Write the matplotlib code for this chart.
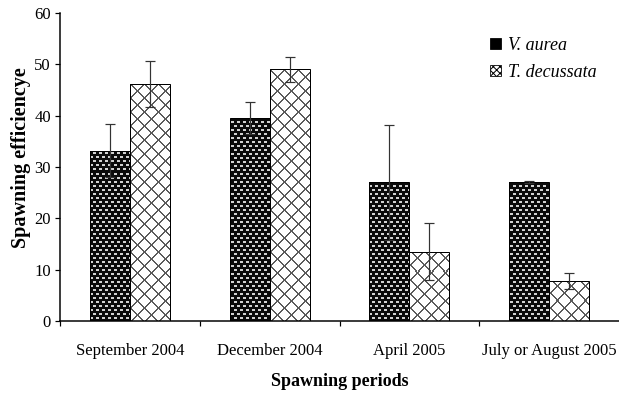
import matplotlib
matplotlib.use("Agg")
import matplotlib.pyplot as plt
import numpy as np
from matplotlib.patches import Patch

DPI = 100
def px(v):               # pixels -> points
    return v * 72.0 / DPI

plt.rcParams['font.family'] = ['Liberation Serif', 'DejaVu Serif']
plt.rcParams['hatch.linewidth'] = px(1.0)

categories = ["September 2004", "December 2004", "April 2005", "July or August 2005"]
series_names = ["V. aurea", "T. decussata"]
v_aurea = [33.2, 39.5, 27.0, 27.0]
v_aurea_err = [5.2, 3.1, 11.2, 0.2]
t_decussata = [46.1, 49.0, 13.5, 7.8]
t_decussata_err = [4.5, 2.4, 5.6, 1.5]
y_ticks = [0, 10, 20, 30, 40, 50, 60]

W_PX, H_PX = 619, 394
AX_L, AX_B, AX_W, AX_H = 60, 321, 559, 308   # pixel geometry of the axes
fig = plt.figure(figsize=(W_PX / DPI, H_PX / DPI), dpi=DPI)
ax = fig.add_axes([AX_L / W_PX, 1 - AX_B / H_PX, AX_W / W_PX, AX_H / H_PX])

XLIM = (-0.5, 3.5)
YLIM = (0, 60)

# ---- fill textures (pixel patterns) ----
ii, jj = np.mgrid[0:AX_H, 0:AX_W]
# brick pattern of light dashes on black
row = ii % 4
shift = np.where((ii // 4) % 2 == 0, 0, 3)
col = (jj + shift) % 6
dash = (row < 2) & (col < 3)
tex_v = np.where(dash, 0.82, 0.04)
tex_v = np.dstack([tex_v] * 3)
# diagonal grey cross-hatch on white
P = 14
d1 = (ii + jj) % P
d2 = (ii - jj) % P
line = (d1 <= 1) | (d2 <= 1)
tex_t = np.where(line, 0.36, 1.0)
tex_t = np.dstack([tex_t] * 3)

x = np.arange(len(categories))
w = 0.2857

def textured_bars(xpos, heights, tex):
    bars = ax.bar(xpos, heights, w, color='none', edgecolor='black', linewidth=px(1.0), zorder=3)
    for b in bars:
        im = ax.imshow(tex, extent=(XLIM[0], XLIM[1], YLIM[0], YLIM[1]), origin='upper',
                       aspect='auto', interpolation='nearest', zorder=2)
        im.set_clip_path(b)
    return bars

textured_bars(x - w/2, v_aurea, tex_v)
textured_bars(x + w/2, t_decussata, tex_t)

ax.errorbar(x - w/2, v_aurea, yerr=v_aurea_err, fmt='none', ecolor='#333333',
            elinewidth=px(1.2), capsize=px(5), capthick=px(1.2), zorder=4)
ax.errorbar(x + w/2, t_decussata, yerr=t_decussata_err, fmt='none', ecolor='#333333',
            elinewidth=px(1.2), capsize=px(5), capthick=px(1.2), zorder=4)

ax.set_xlim(*XLIM)
ax.set_ylim(*YLIM)
ax.set_yticks(y_ticks)
ax.set_xticks(np.arange(-0.5, 3.5, 1.0))
ax.set_xticklabels([])
ax.set_xticks(x, minor=True)
ax.set_xticklabels(categories, minor=True)
ax.tick_params(axis='x', which='minor', length=0, pad=16, labelsize=12)
ax.tick_params(axis='x', which='major', direction='out', length=px(5), width=px(1.2))
ax.tick_params(axis='y', direction='out', length=px(5), width=px(1.2), labelsize=12, pad=3)

for s in ['top', 'right']:
    ax.spines[s].set_visible(False)
ax.spines['left'].set_linewidth(px(1.5))
ax.spines['bottom'].set_linewidth(px(1.5))

ax.set_ylabel("Spawning efficiencye", fontsize=14.5, fontweight='bold')
ax.yaxis.label.set_va('center')
ax.yaxis.label.set_ha('center')
ax.yaxis.set_label_coords(-0.07, 0.532)
ax.set_xlabel("Spawning periods", fontsize=13, fontweight='bold')
ax.xaxis.label.set_va('center')
ax.xaxis.set_label_coords(0.5, -0.195)

handles = [Patch(facecolor='black', edgecolor='black', linewidth=px(0.8)),
           Patch(facecolor='white', edgecolor='black', hatch='xxxxx', linewidth=px(0.8))]
leg = ax.legend(handles, series_names, loc='upper left', bbox_to_anchor=(0.743, 0.97),
                frameon=False, prop={'style': 'italic', 'size': 13},
                handlelength=0.6, handleheight=0.6, handletextpad=0.4, labelspacing=0.55,
                borderpad=0.3)

fig.savefig("out.png", dpi=DPI)
